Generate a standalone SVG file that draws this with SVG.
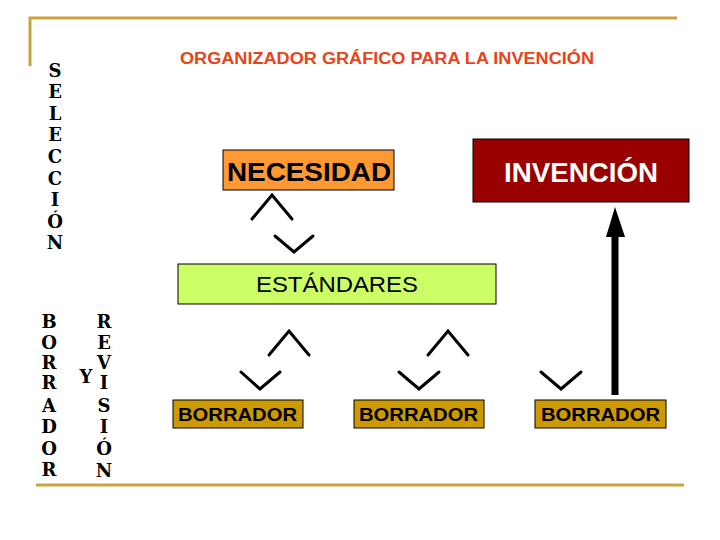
<svg xmlns="http://www.w3.org/2000/svg" width="720" height="540" viewBox="0 0 720 540">
<style>
.frame{stroke:#C9A43A;stroke-width:3;fill:none}
.chev{stroke:#000;stroke-width:3;fill:none;stroke-linecap:round;stroke-linejoin:miter}
.box{stroke:#000;stroke-width:1}
.sans{font-family:"Liberation Sans",Arial,sans-serif}
.mono{font-family:"DejaVu Serif","Liberation Serif",serif;font-weight:bold;font-size:18px;fill:#000}
.borr{font-family:"Liberation Sans",Arial,sans-serif;font-weight:bold;font-size:18px;fill:#000}
</style>
<rect width="720" height="540" fill="#fff"/>
<g id="frame">
<polyline class="frame" points="30,66 30,18 677,18"/>
<line class="frame" x1="36" y1="485" x2="684" y2="485"/>
</g>
<text id="title" class="sans" x="180" y="64" font-size="16" font-weight="bold" fill="#E8431B" textLength="414" lengthAdjust="spacingAndGlyphs">ORGANIZADOR GRÁFICO PARA LA INVENCIÓN</text>
<g id="seleccion" class="mono" text-anchor="middle">
<text x="55" y="77">S</text>
<text x="55" y="98">E</text>
<text x="55" y="120">L</text>
<text x="55" y="141">E</text>
<text x="55" y="163">C</text>
<text x="55" y="185">C</text>
<text x="55" y="206">I</text>
<text x="55" y="228">Ó</text>
<text x="55" y="249">N</text>
</g>
<g id="borrador-revision" class="mono" text-anchor="middle">
<text x="49" y="328">B</text>
<text x="49" y="349">O</text>
<text x="49" y="369">R</text>
<text x="49" y="389">R</text>
<text x="49" y="412">A</text>
<text x="49" y="433">D</text>
<text x="49" y="455">O</text>
<text x="49" y="476">R</text>
<text x="86" y="383">Y</text>
<text x="104" y="328">R</text>
<text x="104" y="349">E</text>
<text x="104" y="369">V</text>
<text x="104" y="389">I</text>
<text x="104" y="412">S</text>
<text x="104" y="433">I</text>
<text x="104" y="455">Ó</text>
<text x="104" y="477">N</text>
</g>
<g id="necesidad">
<rect class="box" x="223" y="150" width="171" height="40" fill="#FF9933"/>
<text class="sans" x="227" y="181" font-size="26" font-weight="bold" fill="#000" textLength="164" lengthAdjust="spacingAndGlyphs">NECESIDAD</text>
</g>
<g id="invencion">
<rect class="box" x="473" y="139" width="216" height="63" fill="#990000"/>
<text class="sans" x="504" y="182" font-size="27" font-weight="bold" fill="#fff" textLength="154" lengthAdjust="spacingAndGlyphs">INVENCIÓN</text>
</g>
<g id="estandares">
<rect class="box" x="178" y="264" width="318" height="40" fill="#CCFF66"/>
<text class="sans" x="256" y="292" font-size="22" fill="#000" textLength="162" lengthAdjust="spacingAndGlyphs">ESTÁNDARES</text>
</g>
<g id="borrador1">
<rect class="box" x="173" y="400" width="130" height="28" fill="#CC9900"/>
<text class="borr" x="178" y="421" textLength="119" lengthAdjust="spacingAndGlyphs">BORRADOR</text>
</g>
<g id="borrador2">
<rect class="box" x="354" y="400" width="130" height="28" fill="#CC9900"/>
<text class="borr" x="359" y="421" textLength="119" lengthAdjust="spacingAndGlyphs">BORRADOR</text>
</g>
<g id="borrador3">
<rect class="box" x="535" y="400" width="131" height="28" fill="#CC9900"/>
<text class="borr" x="541" y="421" textLength="119" lengthAdjust="spacingAndGlyphs">BORRADOR</text>
</g>
<g id="connectors">
<polyline class="chev" points="252,219 272,195 292,219"/>
<polyline class="chev" points="275,236 294,252 313,236"/>
<polyline class="chev" points="269,355 289,331 309,355"/>
<polyline class="chev" points="241,372 260,389 280,372"/>
<polyline class="chev" points="428,355 448,331 468,355"/>
<polyline class="chev" points="399,372 419,389 439,372"/>
<polyline class="chev" points="541,372 561,389 581,372"/>
<line x1="615" y1="395" x2="615" y2="234" stroke="#000" stroke-width="7"/>
<polygon points="606,237 615,207 625,237" fill="#000"/>
</g>
</svg>
